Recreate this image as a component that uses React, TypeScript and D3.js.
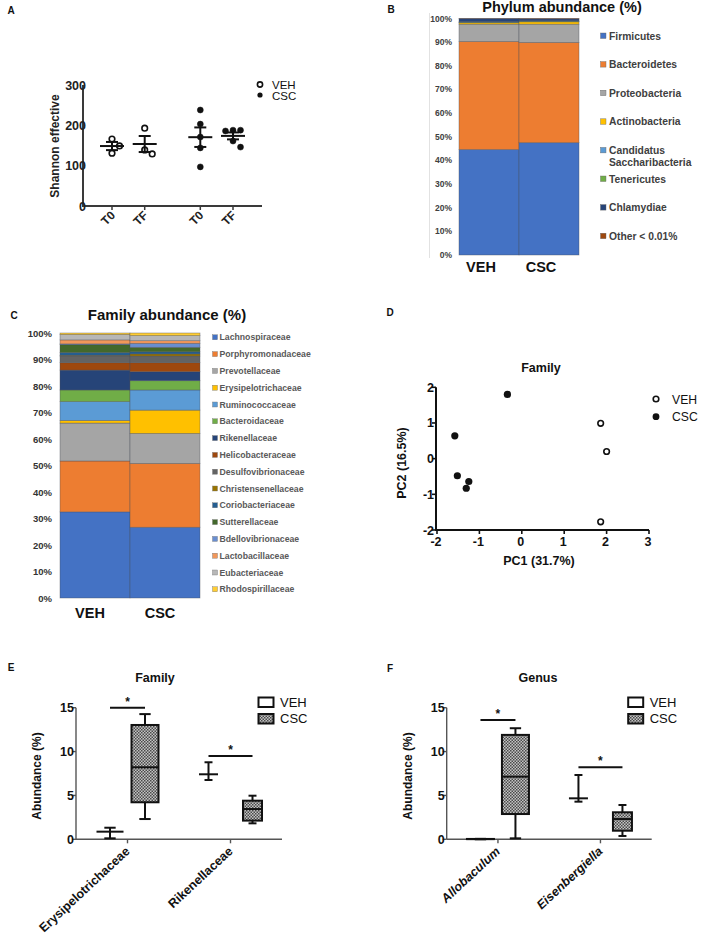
import React from "react";
import * as d3 from "d3";

const FONT = "'Liberation Sans', Arial, Helvetica, sans-serif";

// ---------- Panel A: Shannon effective ----------
const shannonTicks = [0, 100, 200, 300];
const shannonLabels = ["T0", "TF", "T0", "TF"];
const shannonGroups = ["VEH", "VEH", "CSC", "CSC"];
const shannonVehT0 = [166, 149, 131];
const shannonVehTF = [193, 129, 139];
const shannonCscT0 = [238, 203, 171, 144, 97];
const shannonCscTF = [186, 188, 188, 161, 146];

// ---------- Panel B: Phylum abundance ----------
const percentTicks = [0, 10, 20, 30, 40, 50, 60, 70, 80, 90, 100];
const barGroups = ["VEH", "CSC"];
const phyla = ["Firmicutes", "Bacteroidetes", "Proteobacteria", "Actinobacteria", "Candidatus Saccharibacteria", "Tenericutes", "Chlamydiae", "Other < 0.01%"];
const phylumColors = ["#4472C4", "#ED7D31", "#A5A5A5", "#FFC000", "#5B9BD5", "#70AD47", "#264478", "#9E480E"];
const phylumVEH = [44.6, 45.7, 7.3, 0.6, 0.2, 0.2, 1.3, 0.1];
const phylumCSC = [47.5, 42.4, 7.7, 1.0, 0.2, 0.2, 0.8, 0.2];

// ---------- Panel C: Family abundance ----------
const families = ["Lachnospiraceae", "Porphyromonadaceae", "Prevotellaceae", "Erysipelotrichaceae", "Ruminococcaceae", "Bacteroidaceae", "Rikenellaceae", "Helicobacteraceae", "Desulfovibrionaceae", "Christensenellaceae", "Coriobacteriaceae", "Sutterellaceae", "Bdellovibrionaceae", "Lactobacillaceae", "Eubacteriaceae", "Rhodospirillaceae"];
const familyColors = ["#4472C4", "#ED7D31", "#A5A5A5", "#FFC000", "#5B9BD5", "#70AD47", "#264478", "#9E480E", "#636363", "#997300", "#255E91", "#43682B", "#698ED0", "#F1975A", "#B7B7B7", "#FFCD33"];
const familyVEH = [32.5, 19.2, 14.3, 1.0, 7.1, 4.4, 7.5, 2.8, 2.5, 0.3, 1.0, 3.0, 0.3, 1.5, 2.0, 0.6];
const familyCSC = [26.7, 24.1, 11.3, 8.8, 7.6, 3.5, 3.4, 3.4, 2.5, 0.8, 0.8, 1.7, 1.5, 1.0, 1.9, 1.0];

// ---------- Panel D: PCA ----------
const pcaXTicks = [-2, -1, 0, 1, 2, 3];
const pcaYTicks = [-2, -1, 0, 1, 2];
const pcaVehPC1 = [1.86, 2.0, 1.86];
const pcaVehPC2 = [0.99, 0.2, -1.77];
const pcaCscPC1 = [-0.34, -1.58, -1.52, -1.25, -1.31];
const pcaCscPC2 = [1.8, 0.64, -0.48, -0.64, -0.83];

// ---------- Panels E/F: box plots (min, q1, median, q3, max) ----------
const abundanceTicks = [0, 5, 10, 15];
const familyTaxa = ["Erysipelotrichaceae", "Rikenellaceae"];
const familyBoxVEH = [[0.11, 0.87, 0.87, 0.87, 1.32], [6.76, 7.41, 7.41, 7.41, 8.78]];
const familyBoxCSC = [[2.31, 4.22, 8.21, 13.03, 14.27], [1.82, 2.13, 3.45, 4.4, 4.97]];
const familySig = [15.0, 9.5];
const genusTaxa = ["Allobaculum", "Eisenbergiella"];
const genusBoxVEH = [[0.0, 0.02, 0.03, 0.04, 0.05], [4.29, 4.67, 4.67, 4.67, 7.33]];
const genusBoxCSC = [[0.11, 2.88, 7.14, 11.9, 12.66], [0.38, 0.98, 2.31, 3.08, 3.91]];
const genusSig = [13.6, 8.2];

function swarm(values: number[], y: (v: number) => number, r: number, step: number) {
  const placed: { x: number; y: number }[] = [];
  const order = values.map((_, i) => i).sort((a, b) => values[b] - values[a]);
  const res: { dx: number; py: number }[] = new Array(values.length);
  for (const i of order) {
    const py = y(values[i]);
    const cands = [0, step, -step, 2 * step, -2 * step];
    for (const dx of cands) {
      if (placed.every((p) => Math.hypot(p.x - dx, p.y - py) >= step)) {
        placed.push({ x: dx, y: py });
        res[i] = { dx, py };
        break;
      }
    }
    if (!res[i]) res[i] = { dx: 0, py };
  }
  return res;
}

function PanelLetter({ x, y, t }: { x: number; y: number; t: string }) {
  return (
    <text x={x} y={y} fontSize={10} fontWeight="bold" fill="#111" textAnchor="middle">
      {t}
    </text>
  );
}

function PanelA() {
  const y = d3.scaleLinear().domain([0, 300]).range([206, 85]);
  const x = d3.scaleLinear().domain([0, 3.7]).range([112, 233]);
  const slots = [0, 1, 2.7, 3.7];
  const series = [shannonVehT0, shannonVehTF, shannonCscT0, shannonCscTF];
  const axisColor = "#3a3a3a";
  return (
    <g>
      <line x1={83} x2={83} y1={y(300)} y2={y(0) + 1} stroke={axisColor} strokeWidth={2} />
      <line x1={82} x2={262} y1={y(0)} y2={y(0)} stroke={axisColor} strokeWidth={2} />
      {shannonTicks.map((t) => (
        <text key={t} x={86} y={y(t) + 4.5} fontSize={12.5} fontWeight="bold" textAnchor="end" fill="#222">
          {t}
        </text>
      ))}
      {slots.map((s, i) => (
        <g key={i}>
          <line x1={x(s)} x2={x(s)} y1={y(0)} y2={y(0) + 4} stroke={axisColor} strokeWidth={1.5} />
          <text transform={`translate(${x(s) + 4},${y(0) + 10}) rotate(-45)`} fontSize={12} fontWeight="bold" textAnchor="end" fill="#222">
            {shannonLabels[i]}
          </text>
        </g>
      ))}
      <text transform={`translate(59,146) rotate(-90)`} fontSize={12} fontWeight="bold" textAnchor="middle" fill="#222">
        Shannon effective
      </text>
      {series.map((vals, i) => {
        const cx = x(slots[i]);
        const m = d3.mean(vals) as number;
        const sem = (d3.deviation(vals) as number) / Math.sqrt(vals.length);
        const pos = swarm(vals, y, 3, 7.5);
        const open = shannonGroups[i] === "VEH";
        return (
          <g key={i}>
            {pos.map((p, j) => (
              <circle key={j} cx={cx + p.dx} cy={p.py} r={open ? 2.8 : 3}
                fill={open ? "#fff" : "#111"} stroke="#111" strokeWidth={open ? 1.6 : 0.5} />
            ))}
            <line x1={cx - 12} x2={cx + 12} y1={y(m)} y2={y(m)} stroke="#111" strokeWidth={2} />
            <line x1={cx} x2={cx} y1={y(m - sem)} y2={y(m + sem)} stroke="#111" strokeWidth={2} />
            <line x1={cx - 6} x2={cx + 6} y1={y(m + sem)} y2={y(m + sem)} stroke="#111" strokeWidth={2} />
            <line x1={cx - 6} x2={cx + 6} y1={y(m - sem)} y2={y(m - sem)} stroke="#111" strokeWidth={2} />
          </g>
        );
      })}
      <circle cx={260} cy={84.5} r={2.6} fill="#fff" stroke="#111" strokeWidth={1.6} />
      <circle cx={260} cy={95} r={2.6} fill="#111" />
      <text x={272} y={88.5} fontSize={11.5} fill="#111">VEH</text>
      <text x={272} y={99.5} fontSize={11.5} fill="#111">CSC</text>
    </g>
  );
}

function StackedBars({ y, x, values, colors }: { y: d3.ScaleLinear<number, number>; x: d3.ScaleBand<string>; values: number[][]; colors: string[] }) {
  return (
    <g>
      {barGroups.map((g, gi) => {
        let acc = 0;
        return (
          <g key={g}>
            {values[gi].map((v, k) => {
              const y0 = acc;
              acc += v;
              return (
                <rect key={k} x={x(g)} width={x.bandwidth()} y={y(acc)} height={y(y0) - y(acc)}
                  fill={colors[k]} stroke="#4a4f5a" strokeOpacity={0.55} strokeWidth={0.7} />
              );
            })}
          </g>
        );
      })}
    </g>
  );
}

function PanelB() {
  const y = d3.scaleLinear().domain([0, 100]).range([255, 18.5]);
  const x = d3.scaleBand<string>().domain(barGroups).range([459, 579]);
  return (
    <g>
      <text x={562} y={12} fontSize={14.5} fontWeight={900} textAnchor="middle" fill="#111">
        Phylum abundance (%)
      </text>
      <line x1={429.5} x2={429.5} y1={13} y2={258} stroke="#e2e2e2" strokeWidth={1} />
      {percentTicks.map((t) => (
        <text key={t} x={452} y={y(t) + 3} fontSize={8.5} fontWeight="bold" textAnchor="end" fill="#404040">
          {t}%
        </text>
      ))}
      <StackedBars y={y} x={x} values={[phylumVEH, phylumCSC]} colors={phylumColors} />
      {barGroups.map((g) => (
        <text key={g} x={(x(g) as number) + x.bandwidth() / 2 - 8} y={272} fontSize={14.5} fontWeight={900} textAnchor="middle" fill="#111">
          {g}
        </text>
      ))}
      {phyla.map((p, i) => {
        const yy = 36 + i * 28.6;
        const parts = p === "Candidatus Saccharibacteria" ? ["Candidatus", "Saccharibacteria"] : [p];
        return (
          <g key={p}>
            <rect x={600.5} y={yy - 3} width={5.5} height={5.5} fill={phylumColors[i]} stroke="#666" strokeWidth={0.4} />
            {parts.map((s, k) => (
              <text key={k} x={609} y={yy + 3.5 + k * 12.5} fontSize={10.3} fontWeight="bold" fill="#404040">
                {s}
              </text>
            ))}
          </g>
        );
      })}
    </g>
  );
}

function PanelC() {
  const y = d3.scaleLinear().domain([0, 100]).range([598, 333]);
  const x = d3.scaleBand<string>().domain(barGroups).range([60, 200]);
  return (
    <g>
      <text x={167} y={319.5} fontSize={15} fontWeight={900} textAnchor="middle" fill="#111">
        Family abundance (%)
      </text>
      {percentTicks.map((t) => (
        <text key={t} x={52} y={y(t) + 3.5} fontSize={9.5} fontWeight="bold" textAnchor="end" fill="#333">
          {t}%
        </text>
      ))}
      <StackedBars y={y} x={x} values={[familyVEH, familyCSC]} colors={familyColors} />
      {barGroups.map((g) => (
        <text key={g} x={(x(g) as number) + x.bandwidth() / 2 - 5} y={618} fontSize={14.5} fontWeight={900} textAnchor="middle" fill="#111">
          {g}
        </text>
      ))}
      {families.map((f, i) => {
        const yy = 337.3 + i * 16.8;
        return (
          <g key={f}>
            <rect x={212.5} y={yy - 2.5} width={5} height={5} fill={familyColors[i]} stroke="#777" strokeWidth={0.4} />
            <text x={219.5} y={yy + 3} fontSize={8.7} fontWeight="bold" fill="#595959">
              {f}
            </text>
          </g>
        );
      })}
    </g>
  );
}

function PanelD() {
  const x = d3.scaleLinear().domain([-2, 3]).range([437, 649]);
  const y = d3.scaleLinear().domain([-2, 2]).range([530, 387.3]);
  return (
    <g>
      <text x={541} y={371.5} fontSize={12.5} fontWeight="bold" textAnchor="middle" fill="#111">Family</text>
      <line x1={436} x2={436} y1={y(2)} y2={y(-2) + 1} stroke="#111" strokeWidth={2} />
      <line x1={435} x2={x(3)} y1={y(-2)} y2={y(-2)} stroke="#111" strokeWidth={2} />
      {pcaXTicks.map((t) => (
        <g key={t}>
          <line x1={x(t)} x2={x(t)} y1={y(-2)} y2={y(-2) + 4} stroke="#111" strokeWidth={1.6} />
          <text x={x(t) - 1} y={y(-2) + 16} fontSize={12.5} fontWeight="bold" textAnchor="middle" fill="#111">
            {t}
          </text>
        </g>
      ))}
      {pcaYTicks.map((t) => (
        <g key={t}>
          <line x1={432} x2={436} y1={y(t)} y2={y(t)} stroke="#111" strokeWidth={1.6} />
          <text x={434} y={y(t) + 4.5} fontSize={12.5} fontWeight="bold" textAnchor="end" fill="#111">
            {t}
          </text>
        </g>
      ))}
      <text x={539} y={564.5} fontSize={12.5} fontWeight="bold" textAnchor="middle" fill="#111">PC1 (31.7%)</text>
      <text transform="translate(405.5,463) rotate(-90)" fontSize={12.5} fontWeight="bold" textAnchor="middle" fill="#111">
        PC2 (16.5%)
      </text>
      {pcaCscPC1.map((v, i) => (
        <circle key={"c" + i} cx={x(v)} cy={y(pcaCscPC2[i])} r={3.6} fill="#111" />
      ))}
      {pcaVehPC1.map((v, i) => (
        <circle key={"v" + i} cx={x(v)} cy={y(pcaVehPC2[i])} r={2.8} fill="#fff" stroke="#111" strokeWidth={1.6} />
      ))}
      <circle cx={656} cy={399} r={2.8} fill="#fff" stroke="#111" strokeWidth={1.6} />
      <circle cx={656} cy={416.7} r={3.4} fill="#111" />
      <text x={672} y={403.5} fontSize={12.2} fill="#111">VEH</text>
      <text x={672} y={421} fontSize={12.2} fill="#111">CSC</text>
    </g>
  );
}

function Box({ cx, w, s, y, fill }: { cx: number; w: number; s: number[]; y: d3.ScaleLinear<number, number>; fill: string }) {
  const [mn, q1, md, q3, mx] = s;
  const cap = w * 0.42;
  const sw = 2;
  return (
    <g stroke="#111" strokeWidth={sw}>
      <line x1={cx} x2={cx} y1={y(mn)} y2={y(mx)} />
      {q3 > q1 && <rect x={cx - w / 2} y={y(q3)} width={w} height={y(q1) - y(q3)} fill={fill} />}
      <line x1={cx - w / 2} x2={cx + w / 2} y1={y(md)} y2={y(md)} />
      <line x1={cx - cap / 2} x2={cx + cap / 2} y1={y(mx)} y2={y(mx)} />
      <line x1={cx - cap / 2} x2={cx + cap / 2} y1={y(mn)} y2={y(mn)} />
    </g>
  );
}

function BoxPanel({ left, right, title, titleX, taxa, veh, csc, sig, italic }: {
  left: number; right: number; title: string; titleX: number; taxa: string[]; veh: number[][]; csc: number[][]; sig: number[]; italic: boolean;
}) {
  const y = d3.scaleLinear().domain([0, 15]).range([839.3, 707.7]);
  const x = d3.scaleBand<string>().domain(taxa).range([left, right]);
  const offsets = [17.5, 22];
  const widths = [27, 19];
  const axisColor = "#555";
  return (
    <g>
      <text x={titleX} y={681.5} fontSize={12.5} fontWeight="bold" textAnchor="middle" fill="#111">{title}</text>
      <line x1={left} x2={left} y1={y(15)} y2={y(0)} stroke={axisColor} strokeWidth={1.4} />
      <line x1={left} x2={right} y1={y(0)} y2={y(0)} stroke={axisColor} strokeWidth={1.4} />
      {abundanceTicks.map((t) => (
        <g key={t}>
          <line x1={left - 4} x2={left} y1={y(t)} y2={y(t)} stroke={axisColor} strokeWidth={1.4} />
          <text x={left - 2} y={y(t) + 4.5} fontSize={12.5} fontWeight="bold" textAnchor="end" fill="#111">{t}</text>
        </g>
      ))}
      <text transform={`translate(${left - 35},776) rotate(-90)`} fontSize={12} fontWeight="bold" textAnchor="middle" fill="#111">
        Abundance (%)
      </text>
      {taxa.map((t, i) => {
        const c = (x(t) as number) + x.bandwidth() / 2;
        const vx = c - offsets[i];
        const kx = c + offsets[i];
        return (
          <g key={t}>
            <line x1={c} x2={c} y1={y(0)} y2={y(0) + 4} stroke={axisColor} strokeWidth={1.4} />
            <text transform={`translate(${c + 3},${y(0) + 13}) rotate(-43)`} fontSize={12.5} fontWeight="bold"
              fontStyle={italic ? "italic" : "normal"} textAnchor="end" fill="#111">{t}</text>
            <Box cx={vx} w={widths[i]} s={veh[i]} y={y} fill="#fff" />
            <Box cx={kx} w={widths[i]} s={csc[i]} y={y} fill="url(#chk)" />
            <line x1={vx} x2={kx} y1={y(sig[i])} y2={y(sig[i])} stroke="#111" strokeWidth={2} />
            <text x={(vx + kx) / 2} y={y(sig[i]) - 2} fontSize={12} fontWeight="bold" textAnchor="middle" fill="#111">*</text>
          </g>
        );
      })}
      <rect x={right - 23.5} y={697.5} width={15} height={9.5} fill="#fff" stroke="#111" strokeWidth={2} />
      <rect x={right - 23.5} y={714} width={15} height={9.5} fill="url(#chk)" stroke="#111" strokeWidth={2} />
      <text x={right - 2} y={707} fontSize={13} fill="#111">VEH</text>
      <text x={right - 2} y={723} fontSize={13} fill="#111">CSC</text>
    </g>
  );
}

export default function App() {
  return (
    <svg width={701} height={942} viewBox="0 0 701 942"
      style={{ position: "absolute", left: 0, top: 0, display: "block", background: "#fff" }}
      fontFamily={FONT}>
      <defs>
        <pattern id="chk" patternUnits="userSpaceOnUse" width={3} height={3}>
          <rect width={3} height={3} fill="#c4c4c4" />
          <rect x={0} y={0} width={1.5} height={1.5} fill="#4a4a4a" />
          <rect x={1.5} y={1.5} width={1.5} height={1.5} fill="#4a4a4a" />
        </pattern>
      </defs>
      <rect width={701} height={942} fill="#fff" />
      <PanelLetter x={11} y={14} t="A" />
      <PanelLetter x={391} y={13} t="B" />
      <PanelLetter x={14} y={319} t="C" />
      <PanelLetter x={390} y={316} t="D" />
      <PanelLetter x={11} y={671} t="E" />
      <PanelLetter x={390} y={672} t="F" />
      <PanelA />
      <PanelB />
      <PanelC />
      <PanelD />
      <BoxPanel left={76} right={282} title="Family" titleX={155} taxa={familyTaxa} veh={familyBoxVEH} csc={familyBoxCSC} sig={familySig} italic={false} />
      <BoxPanel left={446.7} right={651.7} title="Genus" titleX={538} taxa={genusTaxa} veh={genusBoxVEH} csc={genusBoxCSC} sig={genusSig} italic={true} />
    </svg>
  );
}
